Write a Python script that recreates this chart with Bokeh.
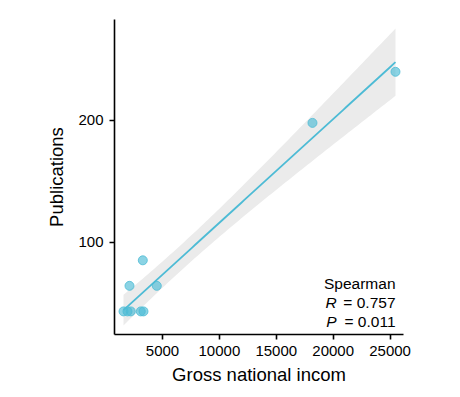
import numpy as np
from bokeh.plotting import figure
from bokeh.models import Range1d, FixedTicker, Label
from bokeh.embed import file_html
from bokeh.resources import INLINE

# ---- data ----
gni = [1573, 1924, 2214, 3093, 3330, 2100, 3269, 4499, 18180, 25475]
publications = [43, 43, 43, 43, 43, 64, 85, 64, 198, 240]
x_ticks = [5000, 10000, 15000, 20000, 25000]
y_ticks = [100, 200]
x_title = "Gross national incom"
y_title = "Publications"
stat_title = "Spearman"
stat_r = "0.757"
stat_p = "0.011"

# ---- linear fit with 95% confidence band ----
x = np.array(gni, dtype=float)
y = np.array(publications, dtype=float)
n = len(x)
slope, intercept = np.polyfit(x, y, 1)
xs = np.linspace(x.min(), x.max(), 100)
yhat = intercept + slope * xs
resid = y - (intercept + slope * x)
s = np.sqrt(np.sum(resid ** 2) / (n - 2))
sxx = np.sum((x - x.mean()) ** 2)
t_crit = 2.306  # t(0.975, df=8)
se = s * np.sqrt(1.0 / n + (xs - x.mean()) ** 2 / sxx)

FONT = "Liberation Sans"
COL = "#4DBBD5"

p = figure(width=452, height=389, output_backend="svg", toolbar_location=None,
           x_range=Range1d(782, 26180), y_range=Range1d(24, 283),
           min_border_left=114, min_border_right=49, min_border_top=19, min_border_bottom=55)
p.outline_line_color = None
p.xgrid.visible = False
p.ygrid.visible = False
p.background_fill_color = "white"
p.border_fill_color = "white"

p.varea(x=xs, y1=yhat - t_crit * se, y2=yhat + t_crit * se, fill_color="#EBEBEB", fill_alpha=1.0)
p.line(xs, yhat, line_color=COL, line_width=1.8)
p.scatter(gni, publications, size=9, fill_color=COL, fill_alpha=0.65,
          line_color=COL, line_alpha=0.8, line_width=1)

for ax, ticks, title in ((p.xaxis[0], x_ticks, x_title), (p.yaxis[0], y_ticks, y_title)):
    ax.ticker = FixedTicker(ticks=ticks)
    ax.major_label_overrides = {t: str(t) for t in ticks}
    ax.axis_label = title
    ax.axis_line_width = 1.6
    ax.axis_line_color = "black"
    ax.major_tick_line_width = 1.6
    ax.major_tick_line_color = "black"
    ax.major_tick_out = 5
    ax.major_tick_in = 0
    ax.minor_tick_out = 0
    ax.minor_tick_in = 0
    ax.major_label_text_font = FONT
    ax.major_label_text_font_size = "15px"
    ax.major_label_text_color = "black"
    ax.axis_label_text_font = FONT
    ax.axis_label_text_font_size = "18.5px"
    ax.axis_label_text_font_style = "normal"
    ax.axis_label_text_color = "black"

p.xaxis.major_label_standoff = 6
p.xaxis.axis_label_standoff = 5
p.yaxis.major_label_standoff = 6
p.yaxis.axis_label_standoff = 8

fs = 15.5
rx = 281
lab_kw = dict(x_units="screen", y_units="screen", text_font=FONT,
              text_font_size=f"{fs}px", text_color="black", text_baseline="alphabetic")
p.add_layout(Label(x=rx, y=51, text=stat_title, text_align="right", **lab_kw))
rest_w = 3.8 * fs
for yy, letter, val in ((32, "R", stat_r), (13, "P", stat_p)):
    p.add_layout(Label(x=rx, y=yy, text=f"= {val}", text_align="right", **lab_kw))
    p.add_layout(Label(x=rx, y=yy, x_offset=-rest_w, text=letter, text_align="right",
                       text_font_style="italic", **lab_kw))

open("out.html", "w").write(file_html(p, INLINE))
